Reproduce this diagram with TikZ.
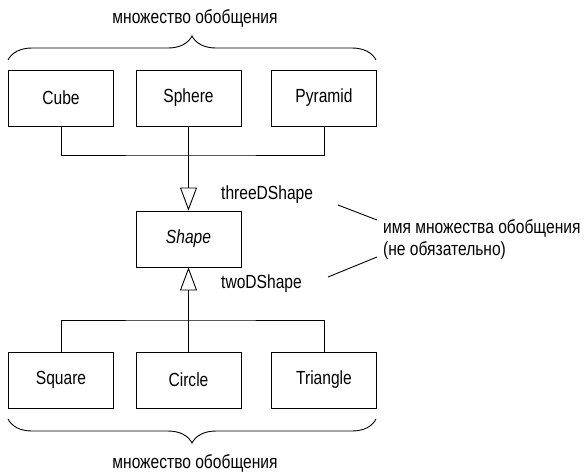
\documentclass[tikz,border=0pt]{standalone}
\usepackage{fontspec}
\setmainfont{Liberation Sans}[FakeStretch=0.82]
\usetikzlibrary{arrows.meta,decorations.pathreplacing}
\begin{document}
\begin{tikzpicture}[x=1pt,y=-1pt,
  cls/.style={draw,line width=0.9pt,minimum width=105pt,minimum height=56pt,inner sep=0pt,font=\fontsize{19}{22}\selectfont},
  lbl/.style={font=\fontsize{19}{22}\selectfont,inner sep=0pt},
  conn/.style={line width=0.9pt},
  gen/.style={line width=1.3pt,-{Triangle[open,length=23pt,width=17pt,line width=0.9pt]}},
  brc/.style={line width=0.9pt,decorate,decoration={brace,amplitude=24pt,raise=0pt}}]
\useasboundingbox (0,0) rectangle (585,472);
\node[cls] (cube) at (61,98) {Cube};
\node[cls] (sphere) at (188.5,98) {Sphere};
\node[cls] (pyr) at (324,98) {Pyramid};
\node[cls] (shape) at (188.5,239) {\itshape Shape};
\node[cls] (square) at (61,380) {Square};
\node[cls] (circle) at (188.5,380) {Circle};
\node[cls] (tri) at (324,380) {Triangle};
\coordinate (j1) at (188.5,155);
\coordinate (j2) at (188.5,320);
\draw[conn] (cube.south) |- (j1) -| (pyr.south);
\draw[gen] (sphere.south) -- (shape.north);
\draw[conn] (square.north) |- (j2) -| (tri.north);
\draw[gen] (circle.north) -- (shape.south);
\coordinate (b1) at (8,60);
\coordinate (b2) at (376,60);
\draw[brc] (b1) -- (b2);
\coordinate (b3) at (376,419);
\coordinate (b4) at (8,419);
\draw[brc] (b3) -- (b4);
\node[lbl] (topset) at (195,18) {множество обобщения};
\node[lbl] (botset) at (195,463) {множество обобщения};
\node[lbl,anchor=west] (three) at (221,195) {threeDShape};
\node[lbl,anchor=west] (two) at (221,284) {twoDShape};
\node[lbl,anchor=west,align=left] (note) at (383,239) {имя множества обобщения\\(не обязательно)};
\coordinate (l1a) at (338,205);
\coordinate (l1b) at (377,220);
\coordinate (l2a) at (328,277);
\coordinate (l2b) at (377,257);
\draw[conn] (l1a) -- (l1b);
\draw[conn] (l2a) -- (l2b);
\end{tikzpicture}
\end{document}
